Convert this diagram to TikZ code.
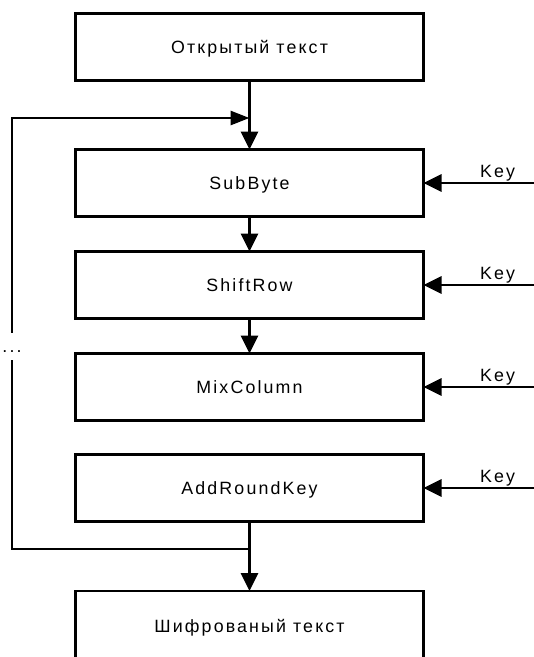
\documentclass[tikz,border=0pt]{standalone}
\usepackage{fontspec}
\setmainfont[LetterSpace=12]{Liberation Sans}
\usetikzlibrary{arrows.meta}

\begin{document}
\begin{tikzpicture}
  [x=1pt, y=-1pt, line width=2.9pt,
   box/.style={draw, rectangle, minimum width=348pt, minimum height=67pt,
     outer sep=0pt, inner sep=0pt, text height=12.6pt, text depth=0pt,
     font=\fontsize{17.8}{20}\selectfont},
   flow/.style={-{Triangle[length=18pt,width=17pt]}},
   back/.style={-{Triangle[length=19pt,width=14pt]}},
   keylab/.style={anchor=base, yshift=5.4pt, inner sep=0pt,
     font=\fontsize{17.8}{20}\selectfont}]
    \useasboundingbox (0,0) rectangle (534,657);
    \foreach \name/\y/\txt in {plain/46.7/Открытый текст,subbyte/183/SubByte,
                  shiftrow/285/ShiftRow,mixcol/387/MixColumn,addkey/488/AddRoundKey}{
      \node[box] (\name) at (249.5,\y) {\txt}; }
    \node[box, minimum height=70pt] (cipher) at (249.5,626) {Шифрованый текст};
    \foreach \from/\to in {plain/subbyte,subbyte/shiftrow,shiftrow/mixcol}{
      \draw[flow] (\from) -- (\to);}
    \foreach \name in {subbyte,shiftrow,mixcol,addkey}{
      \coordinate (k\name) at ([xshift=110.6pt]\name.east);
      \draw[flow] (k\name) -- node[keylab, pos=.33] {Key} (\name.east);}
    % round loop
    \coordinate (j1) at (249.5,118);
    \coordinate (j2) at (249.5,549);
    \node[anchor=base, inner sep=0pt, text height=18pt, text depth=7pt,
      font=\fontsize{17.8}{20}\selectfont] (dots) at (12,352) {...};
    \draw (addkey) -- (j2);
    \draw[flow] (j2) -- (cipher);
    \draw (j2) -| (dots.south);
    \draw[back] (dots.north) |- (j1);
  \end{tikzpicture}
\end{document}
